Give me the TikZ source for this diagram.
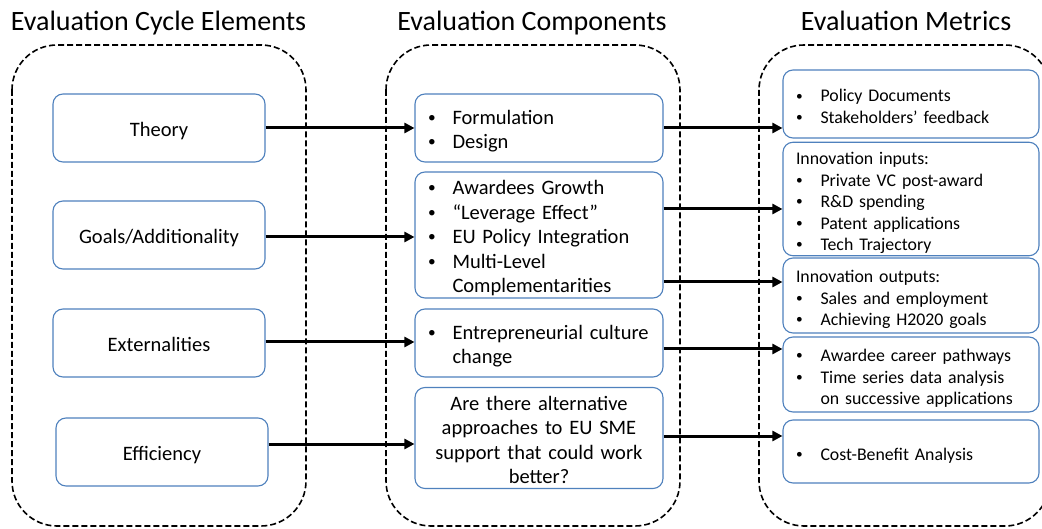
\documentclass[tikz,border=0pt]{standalone}
\usepackage{fontspec}
\setmainfont{Carlito}
\usepackage{tikz}
\usetikzlibrary{arrows.meta, positioning}

\definecolor{boxblue}{RGB}{79,129,189}
\newcommand{\bl}[1]{\makebox[24.5pt][l]{\raisebox{0.1em}{\scalebox{0.75}{\textbullet}}}#1}
\newcommand{\hang}{\hspace*{24.5pt}}

\begin{document}
\begin{tikzpicture}[x=1pt, y=-1pt,
	group/.style={draw, line width=1.6pt, dash pattern=on 6pt off 3pt, rounded corners=45pt},
	title/.style={anchor=base, font=\fontsize{28}{32}\selectfont},
	elem/.style={draw=boxblue, line width=1.1pt, rounded corners=10pt, fill=white,
		minimum width=212pt, minimum height=68pt, inner sep=0pt, align=center,
		font=\fontsize{20.5}{24.5}\selectfont,
		execute at begin node={\rule{0pt}{22.5pt}},
		execute at end node={\rule[-5pt]{0pt}{5pt}}},
	comp/.style={elem, minimum width=248pt, text width=222pt, inner xsep=13pt, align=left},
	metric/.style={elem, minimum width=256pt, text width=230pt, inner xsep=13pt, align=left,
		font=\fontsize{17.8}{21.5}\selectfont,
		execute at begin node={\rule{0pt}{19pt}},
		execute at end node={\rule[-4.4pt]{0pt}{4.4pt}}},
	arr/.style={-{Triangle[length=10pt, width=10pt]}, line width=3pt}]
	\useasboundingbox (0,0) rectangle (1042,529);
	
	% dashed groups
	\draw[group] (12,45) rectangle (306,526);
	\draw[group] (386,45) rectangle (680,526);
	\draw[group] (759,45) rectangle (1050,526);
	
	\node[title] (t_e) at (158.5,31) {Evaluation Cycle Elements};
	\node[title] (t_c) at (532,31) {Evaluation Components};
	\node[title] (t_m) at (906,31) {Evaluation Metrics};
	
	% cycle elements
	\node[elem] (e_1) at (159,128) {Theory};
	\node[elem] (e_2) at (159,235) {Goals/Additionality};
	\node[elem] (e_3) at (159,343) {Externalities};
	\node[elem] (e_4) at (162,452) {Efficiency};
	
	% components
	\node[comp] (c_1) at (539,128) {\bl{Formulation}\\\bl{Design}};
	\node[comp, minimum height=126pt] (c_2) at (539,235)
		{\bl{Awardees Growth}\\\bl{``Leverage Effect''}\\\bl{EU Policy Integration}\\\bl{Multi-Level}\\\hang Complementarities};
	\node[comp] (c_3) at (539,343) {\bl{Entrepreneurial culture}\\\hang change};
	\node[comp, minimum height=100pt, align=center] (c_4) at (539,438)
		{Are there alternative\\approaches to EU SME\\support that could work\\better?};
	
	% metrics
	\node[metric] (m_1) at (911,104) {\bl{Policy Documents}\\\bl{Stakeholders’ feedback}};
	\node[metric, minimum height=110pt] (m_2) at (911,199)
		{Innovation inputs:\\\bl{Private VC post-award}\\\bl{R\&D spending}\\\bl{Patent applications}\\\bl{Tech Trajectory}};
	\node[metric, minimum height=75pt] (m_3) at (911,295.5)
		{Innovation outputs:\\\bl{Sales and employment}\\\bl{Achieving H2020 goals}};
	\node[metric, minimum height=75pt] (m_4) at (911,374.5)
		{\bl{Awardee career pathways}\\\bl{Time series data analysis}\\\hang on successive applications};
	\node[metric, minimum height=63pt] (m_5) at (911,451.5) {\bl{Cost-Benefit Analysis}};
	
	% elements to components
	\draw[arr] (e_1.east) -- (e_1.east -| c_1.west);
	\draw[arr] ([yshift=-2pt]e_2.east) -- ([yshift=-2pt]e_2.east -| c_2.west);
	\draw[arr] ([yshift=1pt]e_3.east) -- ([yshift=1pt]e_3.east -| c_3.west);
	\draw[arr] ([yshift=8pt]e_4.east) -- ([yshift=8pt]e_4.east -| c_4.west);
	
	% components to metrics
	\draw[arr] (c_1.east) -- (c_1.east -| m_1.west);
	\draw[arr] ([yshift=26pt]c_2.east) -- ([yshift=26pt]c_2.east -| m_2.west);
	\draw[arr] ([yshift=-47pt]c_2.east) -- ([yshift=-47pt]c_2.east -| m_3.west);
	\draw[arr] ([yshift=-6pt]c_3.east) -- ([yshift=-6pt]c_3.east -| m_4.west);
	\draw[arr] ([yshift=2pt]c_4.east) -- ([yshift=2pt]c_4.east -| m_5.west);
\end{tikzpicture}
\end{document}
